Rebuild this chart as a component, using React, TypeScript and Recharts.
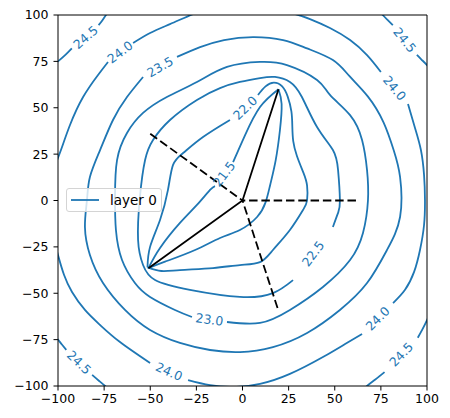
import React from "react";
import { ComposedChart, Line, Scatter, XAxis, YAxis } from "recharts";

type Pt = [number, number] | null;

const ticks = [-100, -75, -50, -25, 0, 25, 50, 75, 100];

// contour levels (null = break in the line)
const level215: Pt[] = [
  [-14.9, 7.8], [-17.6, 5.7], [-24.7, -2.4], [-33.9, -12.1], [-44.7, -25.6], [-51, -36.5],
  null,
  [-51, -36.5], [-42, -33], [-25.7, -26.7], [-12.2, -20.2], [-1.4, -15.9], [7.9, -8.9],
  [12.5, -1], [15, 8.4], [18, 21.8], [20.3, 38], [21.2, 52], [19.5, 60],
  null,
  [19.5, 60], [9.5, 50.4], [1.4, 35.3], [-5.1, 20.7],
];

const level220: Pt[] = [
  [-6.8, 43.4], [-21.4, 34.2], [-32.2, 25.6], [-37.7, 19.1], [-40.4, 5.7], [-44.7, -10.5],
  [-50.1, -25], [-51.5, -36],
  null,
  [-51.5, -36], [-44, -38], [-33.9, -37.5], [-16, -36.4], [-1.4, -34.8], [9.5, -33.2],
  [16.5, -26.7], [25.7, -15.9], [32.8, -5.1], [35, 0], [35, 8], [33, 15],
  [29.5, 24], [27.5, 32], [27, 40], [26.5, 48], [24.5, 56], [21.5, 61.5],
  [17, 63.5], [12.5, 61.5], [8.4, 56.9],
];

const level225: Pt[] = [
  [49, -14.3], [51.8, -6.7], [52.8, 0], [51.8, 16.4], [49, 27.2], [40.4, 39.6],
  [32.2, 55.8], [25.7, 63.9], [17.6, 66.6], [9.5, 66], [-1.4, 63.9], [-12.2, 60.6],
  [-24.7, 54.2], [-39.3, 43.4], [-48.5, 32.6], [-52.8, 21.8], [-55.6, 1.9], [-56.6, -21.3],
  [-53.9, -34.8], [-47.4, -42.9], [-28.5, -48.2], [-1.4, -52], [16.5, -49.9], [27.4, -42.9],
];

const level230: Pt[] = [
  [-8.4, -65.5], [9.5, -66], [25.7, -59], [43.6, -46.6], [58.3, -32.1], [65.3, -17.5],
  [68, 0], [67.5, 16.4], [64.8, 32.6], [58.3, 46], [47.4, 56.9], [40.4, 65],
  [24.1, 73], [9.5, 74.7], [-8.4, 72], [-24.7, 63.9], [-41, 55.8], [-53.9, 47.2],
  [-62.6, 36.4], [-68, 21.8], [-69.1, 1.9], [-68.6, -15.9], [-65.3, -32.1], [-58.3, -44.5],
  [-50.1, -52], [-36.6, -59], [-27.4, -62.8],
];

const level235: Pt[] = [
  [-53.9, 66.6], [-62.6, 55.8], [-70.2, 43.4], [-77.2, 27.2], [-82.7, 12.7], [-84.3, 0.3],
  [-85.4, -14.3], [-82.7, -29.4], [-75.6, -44.5], [-63.7, -59], [-50.1, -69.8], [-33.9, -76.8],
  [-17.6, -80.6], [-1.4, -81.7], [16.5, -79], [35, -71.4], [52.8, -59], [67.5, -44.5],
  [78.3, -26.7], [85.4, -8.9], [85.4, 12.7], [82, 27], [76.5, 42], [68, 56],
  [58, 67], [49, 75.7], [35, 82], [22, 86.5], [5.7, 88.1], [-10, 86.5],
  [-23, 82.7], [-35.5, 77.4],
];

const level240: Pt[] = [
  [-102, -22], [-100, -29.4], [-96.7, -40.2], [-92.4, -49.3], [-85.4, -59], [-77.2, -67.1],
  [-66.4, -76.3], [-50.1, -87.6],
  null,
  [-29.5, -96.8], [-17.6, -99.5], [-4, -100.5], [9.5, -98.9], [25.7, -93.5], [43.6, -84.4],
  [55.6, -77.4], [64.8, -72],
  null,
  [81.6, -55.3], [88, -48.3], [93, -38.5], [96.2, -26.7], [98.4, -13.2], [98.9, 0.3],
  [98.4, 13.8], [96.7, 27.2], [93.5, 39.1], [89.7, 52],
  null,
  [75, 69.3], [67.5, 78.4], [58.3, 86.5], [47.4, 93], [36.6, 97.8], [28.5, 100.5],
  [14.9, 103.8], [0.3, 105.4], [-14.9, 104.3], [-26.8, 100.5], [-39.3, 95.1], [-50.1, 90.3],
  [-59.3, 84.9],
  null,
  [-72.9, 74.7], [-78.3, 67.7], [-86.4, 55.8], [-93.5, 40.7], [-98.4, 27.2], [-101.6, 19.1],
];

const level245: Pt[] = [
  [-102, 73.5], [-100, 75], [-96, 78.5], [-92.5, 82],
  null,
  [-78, 94.5], [-76, 97], [-74, 100], [-72.5, 102],
  null,
  [74.5, 102], [76, 100], [79, 97], [81.5, 94.5],
  null,
  [94.5, 78.5], [97, 76], [100, 73], [102, 70.5],
  null,
  [-102, -73], [-100, -75], [-98, -77.5], [-95.5, -80.5],
  null,
  [-81.5, -94], [-78, -97], [-74.5, -100], [-73, -102],
  null,
  [66, -102], [67.5, -100], [72, -96.5], [77, -92.5],
  null,
  [95, -74], [97.5, -69.5], [100, -64.5], [101, -62],
];

const contours = [level215, level220, level225, level230, level235, level240, level245];

// the star of segments from the origin
const solidPath: Pt[] = [[-51, -36.5], [0, 0], [19.5, 60]];
const dashedPath: Pt[] = [[-50, 36], [0, 0], null, [61.5, 0], [0, 0], null, [19, -58], [0, 0]];

const contourLabels = [
  { x: -85, y: 88, text: "24.5", angle: -41 },
  { x: 88, y: 86.5, text: "24.5", angle: 51 },
  { x: -88.5, y: -87.3, text: "24.5", angle: 44 },
  { x: 86, y: -83, text: "24.5", angle: -46 },
  { x: -66.4, y: 80, text: "24.0", angle: -37 },
  { x: 82.4, y: 60.6, text: "24.0", angle: 50 },
  { x: 73.2, y: -63.6, text: "24.0", angle: -45 },
  { x: -39.8, y: -92.2, text: "24.0", angle: 24 },
  { x: -44.7, y: 72, text: "23.5", angle: -30 },
  { x: -17.9, y: -64.2, text: "23.0", angle: 8 },
  { x: 38.2, y: -28.6, text: "22.5", angle: -53 },
  { x: 1.4, y: 49.9, text: "22.0", angle: -44 },
  { x: -10, y: 14.3, text: "21.5", angle: -53 },
];

const BLUE = "#1f77b4";
const FONT = "DejaVu Sans";

const toRows = (pts: Pt[]) => {
  let lastX = 0;
  return pts.map((p) => {
    if (!p) return { x: lastX, y: null };
    lastX = p[0];
    return { x: p[0], y: p[1] };
  });
};

const fmt = (v: number) => `${v}`.replace("-", "\u2212");

const LabelShape = (props: any) => {
  const { cx, cy, payload } = props;
  return (
    <text
      x={cx}
      y={cy}
      fill={BLUE}
      fontSize={12.5}
      fontFamily={FONT}
      textAnchor="middle"
      dominantBaseline="central"
      transform={`rotate(${payload.angle} ${cx} ${cy})`}
    >
      {payload.text}
    </text>
  );
};

export default function App() {
  return (
    <div style={{ position: "absolute", left: 0, top: 0, width: 450, height: 418, background: "#fff" }}>
      <ComposedChart width={450} height={418} margin={{ top: 14, right: 22, bottom: 2, left: 8 }}>
        <XAxis
          type="number"
          dataKey="x"
          domain={[-100, 100]}
          ticks={ticks}
          allowDataOverflow
          height={30}
          tickSize={4.5}
          tickMargin={4}
          tickFormatter={fmt}
          tick={{ fill: "#000", fontSize: 12.5, fontFamily: FONT }}
          stroke="#000"
        />
        <XAxis xAxisId="top" orientation="top" type="number" domain={[-100, 100]} height={1} tick={false} tickLine={false} stroke="#000" />
        <YAxis
          type="number"
          dataKey="y"
          domain={[-100, 100]}
          ticks={ticks}
          allowDataOverflow
          width={50}
          tickSize={4.5}
          tickMargin={5}
          tickFormatter={fmt}
          tick={{ fill: "#000", fontSize: 12.5, fontFamily: FONT }}
          stroke="#000"
        />
        <YAxis yAxisId="right" orientation="right" type="number" domain={[-100, 100]} width={1} tick={false} tickLine={false} stroke="#000" />
        {contours.map((c, i) => (
          <Line
            key={i}
            data={toRows(c)}
            dataKey="y"
            type="natural"
            stroke={BLUE}
            strokeWidth={1.8}
            dot={false}
            activeDot={false}
            isAnimationActive={false}
          />
        ))}
        <Line data={toRows(solidPath)} dataKey="y" type="linear" stroke="#000" strokeWidth={1.8} dot={false} activeDot={false} isAnimationActive={false} />
        <Line
          data={toRows(dashedPath)}
          dataKey="y"
          type="linear"
          stroke="#000"
          strokeWidth={1.8}
          strokeDasharray="8.5 3.8"
          dot={false}
          activeDot={false}
          isAnimationActive={false}
        />
        <Scatter data={contourLabels} dataKey="y" shape={LabelShape} isAnimationActive={false} />
      </ComposedChart>
      <div
        style={{
          position: "absolute",
          left: 66,
          top: 188,
          width: 96,
          height: 24,
          boxSizing: "border-box",
          border: "1px solid #d4d4d4",
          borderRadius: 3,
          background: "rgba(255,255,255,0.8)",
          fontFamily: FONT,
          fontSize: 13.5,
        }}
      >
        <svg width={30} height={22} style={{ position: "absolute", left: 3, top: 0 }}>
          <line x1={1} y1={11} x2={29} y2={11} stroke={BLUE} strokeWidth={1.8} />
        </svg>
        <span style={{ position: "absolute", left: 43, top: 3, lineHeight: "16px", color: "#000" }}>layer 0</span>
      </div>
    </div>
  );
}
